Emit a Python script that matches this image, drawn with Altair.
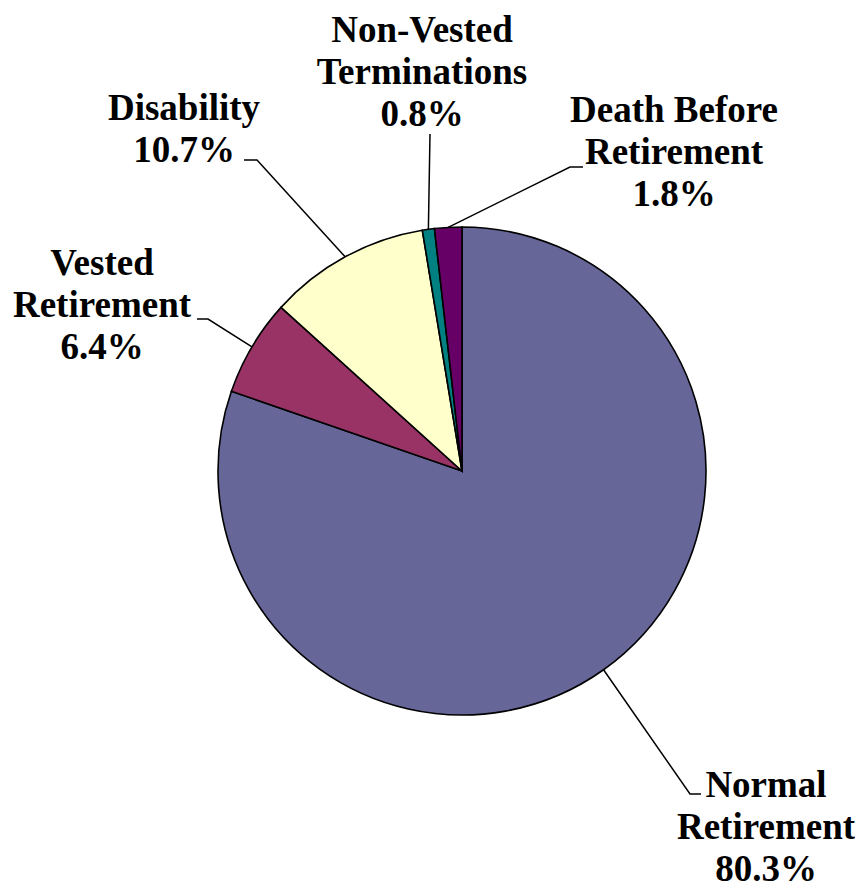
import math
import altair as alt
import pandas as pd

# ---- data ----
categories = ["Normal Retirement", "Vested Retirement", "Disability",
              "Non-Vested Terminations", "Death Before Retirement"]
values = [80.3, 6.4, 10.7, 0.8, 1.8]
label_lines = [
    "Normal\nRetirement\n80.3%",
    "Vested\nRetirement\n6.4%",
    "Disability\n10.7%",
    "Non-Vested\nTerminations\n0.8%",
    "Death Before\nRetirement\n1.8%",
]
colors = ["#666699", "#993366", "#FFFFCC", "#008080", "#660066"]

# ---- layout (page pixel coords) ----
PAD_TOP = 8
MX, MY = 8, 8 + PAD_TOP          # chart origin on the page
CX, CY, R = 462 - MX, 471 - MY, 244
# label anchor: (text center x, first baseline y)
label_pos = {
    "Normal Retirement": (766, 797),
    "Vested Retirement": (102, 275),
    "Disability": (184, 120),
    "Non-Vested Terminations": (422, 42),
    "Death Before Retirement": (674, 122),
}
# leader line: elbow point and end point
leader_pts = {
    "Normal Retirement": [(690, 794), (701, 794)],
    "Vested Retirement": [(208, 319), (197, 319)],
    "Disability": [(257, 160), (244, 160)],
    "Non-Vested Terminations": [(430, 134)],
    "Death Before Retirement": [(570, 167), (583, 167)],
}

slices = pd.DataFrame({
    "category": categories,
    "value": values,
    "idx": list(range(len(categories))),
})

# leader lines start at slice mid-angle on the pie edge
total = sum(values)
rows = []
cum = 0.0
for cat, v in zip(categories, values):
    mid = (cum + v / 2) / total * 2 * math.pi
    cum += v
    sx = CX + R * math.sin(mid)
    sy = CY - R * math.cos(mid)
    pts = [(sx, sy)] + [(px - MX, py - MY) for px, py in leader_pts[cat]]
    for k, (px, py) in enumerate(pts):
        rows.append({"category": cat, "k": k, "x": px, "y": py})
leaders = pd.DataFrame(rows)

labels = pd.DataFrame({
    "label": label_lines,
    "x": [label_pos[c][0] - MX for c in categories],
    "y": [label_pos[c][1] - MY for c in categories],
})

pie = alt.Chart(slices).mark_arc(
    outerRadius=R, stroke="black", strokeWidth=1.6
).encode(
    theta=alt.Theta("value:Q", stack=True),
    color=alt.Color("category:N",
                    scale=alt.Scale(domain=categories, range=colors),
                    legend=None),
    order=alt.Order("idx:Q"),
    x=alt.value(CX),
    y=alt.value(CY),
)

lines = alt.Chart(leaders).mark_line(color="black", strokeWidth=1.5).encode(
    x=alt.X("x:Q", scale=None, axis=None),
    y=alt.Y("y:Q", scale=None, axis=None),
    detail="category:N",
    order="k:Q",
)

text = alt.Chart(labels).mark_text(
    font="Liberation Serif", fontWeight="bold", fontSize=37,
    align="center", baseline="alphabetic", lineBreak="\n",
    lineHeight=42, color="black",
).encode(
    x=alt.X("x:Q", scale=None, axis=None),
    y=alt.Y("y:Q", scale=None, axis=None),
    text="label:N",
)

chart = alt.layer(pie, lines, text).properties(
    width=847, height=872,
    padding={"top": PAD_TOP, "left": 0, "right": 0, "bottom": 0},
    autosize=alt.AutoSizeParams(type="none"),
    background="white",
).configure_view(stroke=None)

chart.save("out.html", embed_options={"renderer": "svg", "actions": False})
